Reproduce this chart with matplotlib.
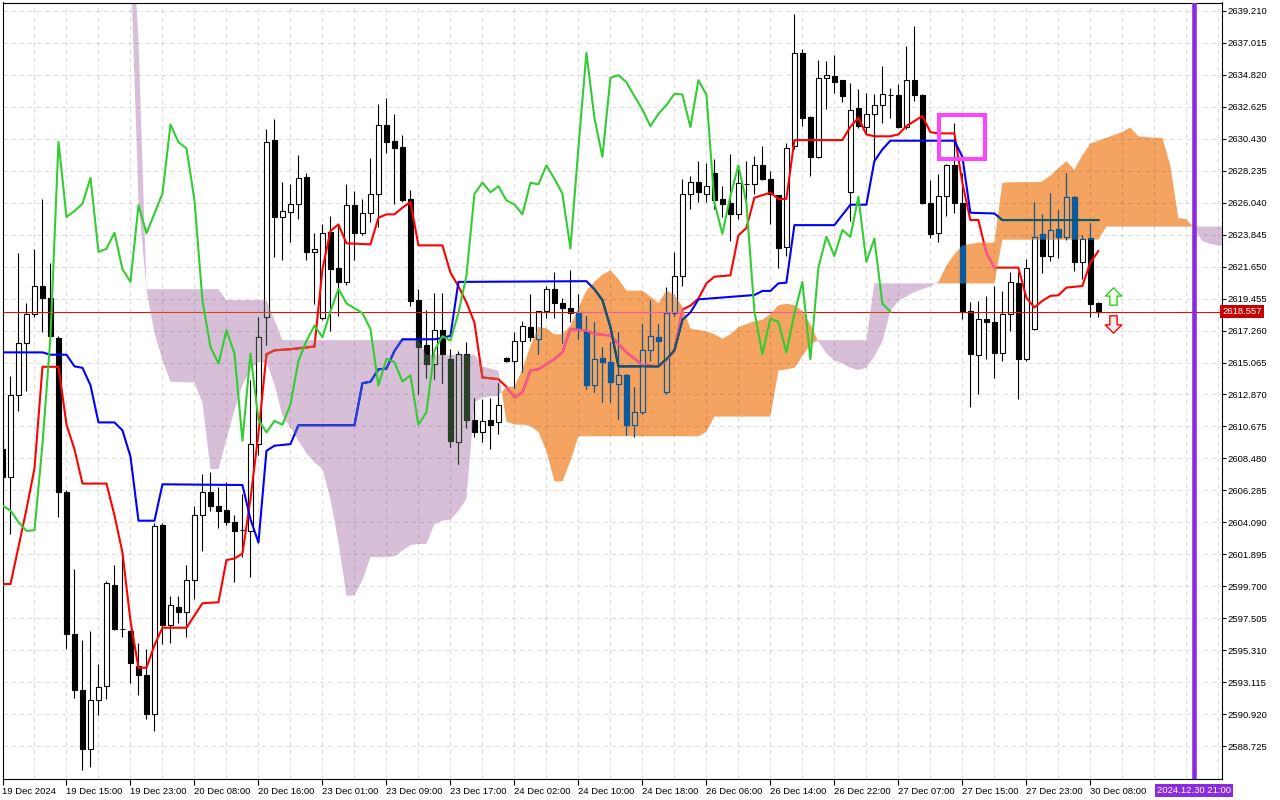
import numpy as np
import matplotlib.pyplot as plt
from matplotlib import transforms
from matplotlib.path import Path
from matplotlib.patches import PathPatch, Rectangle

plt.rcParams['font.family'] = ['Liberation Sans', 'DejaVu Sans']

# H1 bars, first bar = 19 Dec 07:00
opens = [
    2609.10, 2607.18, 2612.84, 2616.41, 2618.39, 2620.29, 2619.50, 2616.75, 2606.19, 2596.45,
    2592.60, 2588.52, 2591.89, 2592.82, 2599.76, 2596.79, 2596.63, 2594.24, 2593.61, 2590.90,
    2603.93, 2597.07, 2598.30, 2597.90, 2600.10, 2604.60, 2606.15, 2605.20, 2604.94, 2604.10,
    2603.55, 2603.52, 2609.46, 2618.22, 2630.38, 2625.06, 2625.42, 2625.97, 2627.82, 2622.66,
    2618.15, 2624.05, 2621.54, 2620.60, 2625.86, 2623.99, 2625.30, 2626.66, 2631.41, 2630.27,
    2629.86, 2626.27, 2619.34, 2616.25, 2614.99, 2617.28, 2615.29, 2609.58, 2615.68, 2611.13,
    2610.31, 2611.11, 2610.95, 2615.40, 2615.20, 2616.57, 2617.49, 2616.69, 2618.63, 2620.12,
    2619.16, 2618.79, 2618.47, 2617.26, 2613.49, 2615.36, 2615.13, 2613.60, 2614.22, 2610.79,
    2611.66, 2615.90, 2616.80, 2613.03, 2618.47, 2621.03, 2626.63, 2627.43, 2626.66, 2628.10,
    2626.27, 2626.04, 2625.29, 2627.30, 2627.30, 2628.60, 2627.69, 2626.54, 2623.02, 2629.93,
    2636.33, 2631.94, 2629.19, 2634.61, 2634.77, 2634.45, 2626.77, 2632.56, 2631.25, 2632.14,
    2632.72, 2633.47, 2633.47, 2631.23, 2634.45, 2633.47, 2626.04, 2623.98, 2626.50, 2628.60,
    2626.04, 2618.58, 2615.57, 2618.08, 2617.88, 2615.75, 2618.42, 2620.55, 2615.29, 2617.35,
    2623.87, 2622.38, 2624.21, 2623.69, 2626.45, 2621.97, 2623.59, 2619.18,
]
highs = [
    2610.00, 2614.15, 2622.60, 2619.16, 2622.84, 2626.32, 2621.93, 2616.90, 2606.30, 2600.90,
    2596.00, 2596.65, 2594.38, 2600.04, 2601.18, 2602.17, 2596.70, 2595.80, 2595.37, 2604.01,
    2604.01, 2599.05, 2599.00, 2601.16, 2605.20, 2607.40, 2607.57, 2606.50, 2606.84, 2604.60,
    2606.00, 2613.87, 2618.22, 2631.07, 2631.80, 2627.48, 2627.30, 2629.29, 2628.10, 2623.98,
    2624.55, 2625.12, 2624.48, 2627.30, 2626.84, 2626.27, 2629.08, 2632.79, 2633.24, 2632.10,
    2630.66, 2626.89, 2620.10, 2618.68, 2619.82, 2619.82, 2615.98, 2615.86, 2616.44, 2612.66,
    2612.55, 2612.60, 2613.65, 2615.45, 2617.19, 2617.94, 2619.78, 2618.60, 2620.35, 2621.26,
    2619.50, 2621.44, 2619.78, 2618.29, 2617.83, 2616.12, 2616.46, 2617.14, 2614.30, 2613.37,
    2617.72, 2619.36, 2617.72, 2620.23, 2622.68, 2627.66, 2627.89, 2628.90, 2628.78, 2629.06,
    2627.18, 2629.36, 2628.37, 2628.90, 2629.24, 2629.93, 2628.21, 2626.60, 2630.15, 2639.03,
    2636.60, 2632.00, 2635.87, 2635.76, 2636.21, 2634.50, 2634.23, 2633.86, 2633.58, 2633.54,
    2635.41, 2633.93, 2634.16, 2636.83, 2638.16, 2633.50, 2627.57, 2627.98, 2628.70, 2631.53,
    2628.10, 2619.22, 2619.29, 2619.64, 2620.32, 2619.98, 2621.28, 2621.26, 2622.20, 2626.09,
    2625.24, 2626.73, 2625.54, 2628.05, 2626.50, 2623.80, 2624.62, 2619.20,
]
lows = [
    2606.30, 2603.30, 2611.70, 2613.13, 2618.20, 2617.18, 2616.60, 2604.43, 2595.37, 2592.03,
    2587.10, 2587.30, 2590.84, 2591.97, 2596.70, 2596.22, 2593.08, 2592.25, 2590.61, 2589.76,
    2595.71, 2595.80, 2597.20, 2596.24, 2598.80, 2602.10, 2604.90, 2603.70, 2603.90, 2600.00,
    2601.70, 2600.30, 2608.70, 2616.25, 2622.30, 2622.10, 2623.34, 2624.90, 2622.10, 2619.07,
    2618.00, 2617.24, 2618.27, 2620.40, 2622.11, 2623.82, 2624.71, 2624.39, 2629.47, 2625.97,
    2626.10, 2618.95, 2612.89, 2614.03, 2613.92, 2613.69, 2609.23, 2608.09, 2610.60, 2609.92,
    2609.58, 2609.12, 2610.15, 2615.10, 2613.30, 2614.40, 2616.57, 2615.66, 2618.10, 2618.13,
    2616.40, 2617.83, 2616.69, 2613.26, 2613.03, 2612.34, 2612.34, 2611.20, 2610.06, 2609.94,
    2611.54, 2615.20, 2614.90, 2612.91, 2618.29, 2620.35, 2625.60, 2626.08, 2626.08, 2625.58,
    2625.08, 2623.41, 2624.90, 2625.58, 2626.61, 2627.60, 2624.55, 2621.58, 2622.38, 2629.70,
    2631.30, 2627.87, 2629.10, 2632.49, 2633.58, 2632.97, 2624.78, 2631.20, 2630.73, 2628.90,
    2631.53, 2631.87, 2631.20, 2631.10, 2633.01, 2625.92, 2623.64, 2623.34, 2625.13, 2625.35,
    2618.04, 2611.98, 2612.89, 2615.29, 2614.03, 2615.18, 2617.24, 2612.55, 2615.20, 2617.30,
    2621.24, 2622.04, 2622.27, 2623.46, 2621.35, 2620.78, 2618.20, 2618.20,
]
closes = [
    2607.20, 2612.84, 2616.41, 2618.39, 2620.29, 2619.50, 2616.89, 2606.19, 2596.45, 2592.54,
    2588.52, 2591.89, 2592.77, 2599.90, 2596.79, 2596.79, 2594.40, 2593.61, 2590.90, 2603.87,
    2597.07, 2598.40, 2597.90, 2600.10, 2604.60, 2606.15, 2605.23, 2604.90, 2604.10, 2603.50,
    2603.55, 2609.46, 2616.85, 2630.22, 2625.06, 2625.47, 2625.97, 2627.75, 2622.66, 2622.88,
    2623.98, 2621.47, 2620.60, 2625.86, 2623.94, 2625.30, 2626.66, 2631.41, 2630.20, 2629.77,
    2626.22, 2619.29, 2616.14, 2614.99, 2617.28, 2615.68, 2609.69, 2615.68, 2611.13, 2610.26,
    2611.06, 2610.79, 2612.18, 2615.18, 2616.55, 2617.60, 2616.80, 2618.59, 2620.12, 2619.13,
    2618.79, 2618.45, 2617.37, 2613.49, 2615.32, 2615.09, 2613.76, 2614.18, 2610.79, 2611.66,
    2615.90, 2616.87, 2616.57, 2618.47, 2621.03, 2626.63, 2627.43, 2626.75, 2627.18, 2626.20,
    2625.92, 2625.24, 2627.41, 2627.30, 2628.60, 2627.69, 2626.66, 2622.90, 2629.81, 2636.33,
    2631.87, 2629.19, 2634.61, 2634.80, 2634.32, 2633.36, 2632.44, 2631.30, 2632.14, 2632.74,
    2633.52, 2633.47, 2631.23, 2634.45, 2633.47, 2626.04, 2623.91, 2626.50, 2628.60, 2626.04,
    2618.58, 2615.64, 2618.08, 2617.85, 2615.75, 2618.42, 2620.60, 2615.29, 2621.58, 2623.71,
    2622.38, 2624.16, 2623.69, 2626.45, 2621.97, 2623.57, 2619.11, 2618.56,
]

# ichimoku lines as (bar, price) vertices
tenkan_pts = [
    (0, 2599.85), (1, 2599.85), (2, 2602.4), (3, 2605.0), (4, 2607.8), (5, 2614.77), (7, 2614.77),
    (8, 2610.8), (9, 2609.1), (10, 2606.75), (13, 2606.75), (14, 2604.57), (15, 2602.0), (16, 2597.3),
    (17, 2594.1), (18, 2594.1), (19, 2595.65), (20, 2596.85), (23, 2596.85), (25, 2598.53), (27, 2598.6),
    (28, 2601.5), (29, 2601.6), (30, 2601.95), (31, 2605.7), (32, 2610.2), (33, 2615.63), (34, 2615.9),
    (36, 2615.98), (39, 2616.16), (40, 2621.47), (41, 2624.1), (42, 2624.55), (43, 2623.25), (46, 2623.18),
    (47, 2625.01), (48, 2625.24), (49, 2625.24), (50, 2625.7), (51, 2626.09), (52, 2623.11), (55, 2623.11),
    (56, 2621.24), (57, 2620.3), (58, 2619.2), (59, 2617.81), (60, 2614.04), (62, 2613.92), (63, 2613.4),
    (64, 2612.67), (65, 2613.03), (66, 2614.52), (67, 2614.6), (69, 2615.3), (70, 2615.77), (71, 2617.37),
    (73, 2617.26), (74, 2617.03), (76, 2616.92), (78, 2615.77), (80, 2614.9), (82, 2614.8), (83, 2615.2),
    (84, 2615.9), (85, 2618.7), (86, 2618.97), (87, 2619.45), (88, 2620.5), (89, 2620.96), (91, 2621.05),
    (92, 2623.8), (93, 2624.3), (94, 2626.38), (96, 2626.73), (97, 2626.3), (98, 2626.3), (99, 2630.34),
    (105, 2630.34), (106, 2631.25), (107, 2631.87), (108, 2630.73), (109, 2630.6), (111, 2630.6),
    (112, 2630.73), (113, 2631.3), (115, 2631.99), (116, 2630.89), (117, 2630.8), (119, 2630.8),
    (120, 2627.4), (121, 2624.85), (122, 2624.85), (123, 2622.6), (124, 2621.58), (127, 2621.58),
    (128, 2619.52), (129, 2618.84), (130, 2619.3), (131, 2619.64), (132, 2619.68), (133, 2620.21),
    (135, 2620.32), (136, 2621.92), (137, 2622.72),
]
kijun_pts = [
    (0, 2615.76), (5, 2615.76), (6, 2615.6), (8, 2615.6), (9, 2614.8), (10, 2614.7), (11, 2613.5),
    (12, 2610.95), (14, 2610.95), (15, 2610.4), (16, 2608.6), (17, 2604.2), (19, 2604.2), (20, 2606.7),
    (30, 2606.65), (31, 2604.3), (32, 2602.7), (33, 2609.0), (34, 2609.35), (36, 2609.46), (37, 2610.76),
    (44, 2610.76), (45, 2613.65), (46, 2613.74), (47, 2614.6), (48, 2614.65), (49, 2615.86), (50, 2616.66),
    (54, 2616.66), (55, 2616.75), (56, 2616.9), (57, 2620.6), (73, 2620.65), (74, 2620.1), (75, 2619.35),
    (76, 2617.5), (77, 2614.8), (82, 2614.8), (83, 2615.3), (84, 2615.9), (85, 2618.0), (86, 2618.5),
    (87, 2619.4), (94, 2619.7), (95, 2619.98), (96, 2619.98), (97, 2620.5), (98, 2620.55), (99, 2624.5),
    (104, 2624.5), (105, 2625.2), (106, 2625.9), (108, 2625.9), (109, 2628.9), (110, 2629.7),
    (111, 2630.3), (119, 2630.3), (120, 2629.2), (121, 2625.35), (124, 2625.3), (125, 2624.85),
    (137, 2624.85),
]

# kumo, bars 16..153
cloud_start = 16
senkou_a = [
    2642.85, 2626.2, 2620.05, 2617.1, 2615.25, 2613.74, 2613.74, 2613.7, 2613.69, 2612.3,
    2607.75, 2607.75, 2609.8, 2611.8, 2613.5, 2614.6, 2615.1, 2615.1, 2613.58, 2611.4,
    2610.6, 2609.69, 2608.82, 2608.2, 2607.75, 2605.69, 2602.72, 2599.06, 2599.06, 2600.1,
    2601.7, 2601.7, 2601.7, 2601.75, 2602.15, 2602.53, 2602.6, 2602.6, 2603.97, 2604.2,
    2604.27, 2604.89, 2605.69, 2612.32, 2612.66, 2612.73, 2612.78, 2613.4, 2613.4, 2614.6,
    2616.2, 2617.5, 2617.4, 2617.0, 2617.0, 2617.6, 2618.8, 2620.0, 2620.6, 2621.1,
    2621.4, 2620.8, 2620.0, 2620.0, 2620.0, 2619.6, 2619.15, 2620.0, 2619.7, 2618.9,
    2617.4, 2617.3, 2617.2, 2617.0, 2616.7, 2617.0, 2617.5, 2617.7, 2617.9, 2618.0,
    2618.4, 2619.0, 2619.1, 2619.0, 2618.6, 2617.7, 2616.5, 2615.7, 2615.2, 2615.0,
    2614.7, 2614.55, 2614.7, 2615.5, 2616.5, 2618.6, 2619.3, 2619.6, 2619.9, 2620.1,
    2620.3, 2620.6, 2621.7, 2622.5, 2623.1, 2623.2, 2623.3, 2623.3, 2623.3, 2627.4,
    2627.45, 2627.45, 2627.45, 2627.45, 2627.5, 2627.9, 2628.4, 2628.9, 2628.3, 2629.3,
    2630.1, 2630.3, 2630.5, 2630.7, 2630.9, 2631.2, 2630.6, 2630.55, 2630.5, 2630.5,
    2628.6, 2625.0, 2624.9, 2624.3, 2623.4, 2623.2, 2623.1, 2623.1,
]
senkou_b = [
    2646.6, 2637.2, 2620.1, 2620.1, 2620.1, 2620.1, 2620.1, 2620.1, 2620.1, 2620.1,
    2620.1, 2620.1, 2619.36, 2619.36, 2619.36, 2619.36, 2619.36, 2619.3, 2618.0, 2616.6,
    2616.6, 2616.6, 2616.6, 2616.6, 2616.6, 2616.6, 2616.6, 2616.6, 2616.6, 2616.6,
    2616.6, 2616.6, 2616.6, 2616.6, 2616.6, 2616.6, 2616.6, 2615.6, 2615.6, 2615.6,
    2615.6, 2615.6, 2615.6, 2615.6, 2614.8, 2614.65, 2614.5, 2611.0, 2610.8, 2610.8,
    2610.7, 2610.3, 2609.0, 2606.9, 2606.9, 2608.3, 2610.0, 2610.0, 2610.0, 2610.0,
    2610.0, 2610.0, 2610.0, 2610.0, 2610.0, 2610.0, 2610.0, 2610.0, 2610.0, 2610.0,
    2610.0, 2610.0, 2610.3, 2611.35, 2611.35, 2611.35, 2611.35, 2611.35, 2611.35, 2611.35,
    2611.35, 2614.5, 2614.6, 2614.7, 2615.5, 2616.3, 2616.6, 2616.6, 2616.6, 2616.6,
    2616.6, 2616.6, 2616.6, 2620.5, 2620.5, 2620.5, 2620.5, 2620.5, 2620.5, 2620.5,
    2620.5, 2620.5, 2620.5, 2620.5, 2620.5, 2620.5, 2620.5, 2620.5, 2620.5, 2623.5,
    2623.5, 2623.5, 2623.5, 2623.5, 2623.5, 2623.5, 2623.5, 2623.5, 2623.5, 2623.5,
    2623.5, 2623.5, 2624.4, 2624.4, 2624.4, 2624.4, 2624.4, 2624.4, 2624.4, 2624.4,
    2624.4, 2624.4, 2624.4, 2624.4, 2624.4, 2624.4, 2624.4, 2624.4,
]
chikou_shift = 26

x_labels = ['19 Dec 2024', '19 Dec 15:00', '19 Dec 23:00', '20 Dec 08:00', '20 Dec 16:00',
            '23 Dec 01:00', '23 Dec 09:00', '23 Dec 17:00', '24 Dec 02:00', '24 Dec 10:00',
            '24 Dec 18:00', '26 Dec 06:00', '26 Dec 14:00', '26 Dec 22:00', '27 Dec 07:00',
            '27 Dec 15:00', '27 Dec 23:00', '30 Dec 08:00']
label_bars = [0, 8, 16, 24, 32, 40, 48, 56, 64, 72, 80, 88, 96, 104, 112, 120, 128, 136]
grid_bars = [4, 12, 20, 28, 36, 44, 52, 60, 68, 76, 84, 92, 100, 108, 116, 124, 132, 140, 144, 148, 152]
price_ticks = [2588.725, 2590.920, 2593.115, 2595.310, 2597.505, 2599.700, 2601.895, 2604.090,
               2606.285, 2608.480, 2610.675, 2612.870, 2615.065, 2617.260, 2619.455, 2621.650,
               2623.845, 2626.040, 2628.235, 2630.430, 2632.625, 2634.820, 2637.015, 2639.210]

last_price = 2618.557
now_bar = 149
now_label = '2024.12.30 21:00'
box_bars = (117.1, 122.8)
box_prices = (2629.05, 2632.07)
arrow_bar = 138.8
arrow_up_price = 2619.63
arrow_down_price = 2617.71

o = np.array(opens)
h = np.array(highs)
l = np.array(lows)
c = np.array(closes)
bars = np.arange(len(c))
bull = c > o
body_lo = np.minimum(o, c)
body_h = np.abs(c - o)

fig = plt.figure(figsize=(12.8, 8), dpi=100)
ax = fig.add_axes([2.5 / 1280, 21 / 800, 1219.5 / 1280, 776.5 / 800])

# cloud
cx = np.arange(cloud_start, cloud_start + len(senkou_a))
sa = np.array(senkou_a)
sb = np.array(senkou_b)
orange = ax.fill_between(cx, sa, sb, where=sa >= sb, interpolate=True, color='#F4A460', lw=0, zorder=0.8)
thistle = ax.fill_between(cx, sa, sb, where=sa < sb, interpolate=True, color='#D8BFD8', lw=0, zorder=0.8)


def clip_of(coll):
    return PathPatch(Path.make_compound_path(*coll.get_paths()), transform=ax.transData,
                     facecolor='none', edgecolor='none')


def draw_scene(col, z, clip=None):
    arts = [ax.vlines(bars, l, h, colors=col['edge'], lw=0.8, zorder=z)]
    arts += list(ax.bar(bars[bull], body_h[bull], bottom=body_lo[bull], width=0.56,
                        facecolor=col['bull'], edgecolor=col['edge'], lw=0.8, zorder=z + 0.1))
    arts += list(ax.bar(bars[~bull], body_h[~bull], bottom=body_lo[~bull], width=0.56,
                        facecolor=col['edge'], edgecolor=col['edge'], lw=0.8, zorder=z + 0.1))
    arts += ax.plot(*zip(*tenkan_pts), color=col['tenkan'], lw=1.5, zorder=z + 0.2)
    arts += ax.plot(*zip(*kijun_pts), color=col['kijun'], lw=1.5, zorder=z + 0.3)
    arts.append(ax.axhline(last_price, color=col['tenkan'], lw=0.75, zorder=z + 0.2))
    if clip is not None:
        for a in arts:
            a.set_clip_path(clip)


# the terminal xors the kumo over what is already drawn
draw_scene(dict(edge='black', bull='white', tenkan='#FF0000', kijun='#0000FF'), 3)
draw_scene(dict(edge='#0B5B9F', bull='#F4A460', tenkan='#F45B9F', kijun='#0B5B60'), 4, clip_of(orange))
draw_scene(dict(edge='#274027', bull='#D8BFD8', tenkan='#D84027', kijun='#2740D8'), 4, clip_of(thistle))

# chikou span
ax.plot(bars[:len(c) - chikou_shift], c[chikou_shift:], color='#32CD32', lw=1.5, zorder=6)

# objects
ax.axvline(now_bar, color='#8A2BE2', lw=3.3, zorder=7)
ax.add_patch(Rectangle((box_bars[0], box_prices[0]), box_bars[1] - box_bars[0],
                       box_prices[1] - box_prices[0], fill=False, edgecolor='#FF44FF', lw=2.9, zorder=7))
up = Path([(0, 1), (0.95, 0.05), (0.42, 0.05), (0.42, -1), (-0.42, -1), (-0.42, 0.05), (-0.95, 0.05), (0, 1)],
          closed=True)
down = Path([(0, -1), (0.95, -0.05), (0.42, -0.05), (0.42, 1), (-0.42, 1), (-0.42, -0.05), (-0.95, -0.05), (0, -1)],
            closed=True)
ax.plot([arrow_bar], [arrow_up_price], marker=up, markersize=12.5, markerfacecolor='#F4FFE4',
        markeredgecolor='#32CD32', markeredgewidth=1.0, zorder=7)
ax.plot([arrow_bar], [arrow_down_price], marker=down, markersize=12.5, markerfacecolor='#FFF0F0',
        markeredgecolor='#FF0000', markeredgewidth=1.0, zorder=7)

ax.set_xlim(0.025, 152.46)
ax.set_ylim(2586.46, 2639.79)

ax.set_xticks(label_bars)
ax.set_xticklabels(x_labels, ha='left')
ax.set_xticks(grid_bars, minor=True)
shift = transforms.ScaledTranslation(2 / 100, 0, fig.dpi_scale_trans)
for lab in ax.get_xticklabels():
    lab.set_transform(lab.get_transform() + shift)
ax.yaxis.tick_right()
ax.set_yticks(price_ticks)
ax.set_yticklabels(['%.3f' % p for p in price_ticks])
ax.tick_params(axis='x', which='major', length=4, width=0.8, pad=1.5, labelsize=6.8)
ax.tick_params(axis='x', which='minor', length=0)
ax.tick_params(axis='y', length=3, width=0.8, pad=1, labelsize=6.8)
ax.grid(True, which='both', color='black', alpha=0.13, linestyle=(0, (4, 4)), linewidth=0.75)
for s in ax.spines.values():
    s.set_linewidth(0.8)
    s.set_color('black')

ax.text(1.0, last_price, '%.3f' % last_price, transform=ax.get_yaxis_transform(), ha='left', va='center',
        color='white', fontsize=6.8, zorder=8, clip_on=False,
        bbox=dict(boxstyle='square,pad=0.2', facecolor='#C80000', edgecolor='none'))
ax.text(now_bar, -0.0145, now_label, transform=ax.get_xaxis_transform(), ha='center', va='center',
        color='white', fontsize=6.8, zorder=8, clip_on=False,
        bbox=dict(boxstyle='square,pad=0.2', facecolor='#8A2BE2', edgecolor='none'))

fig.savefig('out.png', dpi=100)
